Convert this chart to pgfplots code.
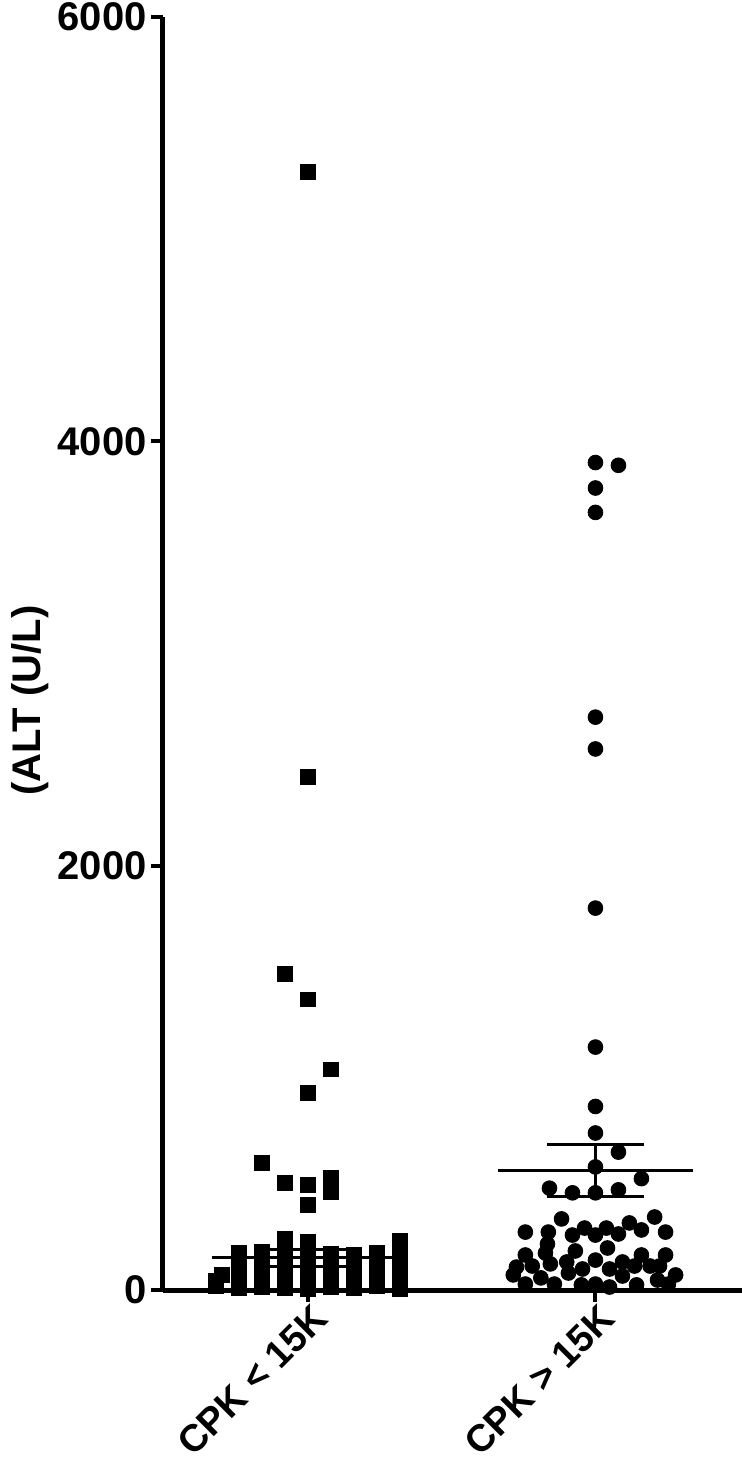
\documentclass[border=0pt]{standalone}
\usepackage{fontspec}
\setmainfont{Liberation Sans}
\usepackage{pgfplots}
\pgfplotsset{compat=1.18}
\usetikzlibrary{calc}
\newcommand{\lblfont}{\fontsize{20}{23}\selectfont\bfseries}
\newcommand{\xlblfont}{\fontsize{19}{22}\selectfont\bfseries}

\begin{document}
\begin{tikzpicture}
\begin{axis}[
  scale only axis,
  width=289.5pt, height=636.5pt,
  xmin=0.495, xmax=2.51, ymin=0, ymax=6000,
  axis x line*=bottom, axis y line*=left,
  axis line style={line width=2.5pt, -},
  clip=false,
  tick align=outside,
  major tick length=6pt,
  every tick/.style={line width=2pt, black},
  xtick={1,2},
  xticklabels={CPK < 15K, CPK > 15K},
  xticklabel style={font=\xlblfont, rotate=45, anchor=north east, inner sep=1pt,
    xshift=2pt},
  ytick={0,2000,4000,6000},
  yticklabels={0,2000,4000,6000},
  yticklabel style={font=\lblfont, inner sep=2pt},
  ylabel={(ALT (U/L)},
  ylabel style={font=\lblfont, at={(axis description cs:-0.23,0.463)}, anchor=center},
]
% CPK < 15K
\addplot[only marks, mark=square*, mark size=3.7pt, black] coordinates {
  (1,5270) (1,2420) (0.92,1490) (1,1370) (1.08,1040) (1,930)
  (0.84,600) (0.92,505) (1,495) (1.08,530) (1.08,460) (1,400)
  (0.68,20) (0.68,45) (0.70,70)
  (0.76,10) (0.76,50) (0.76,90) (0.76,130) (0.76,175)
  (0.84,15) (0.84,60) (0.84,100) (0.84,140) (0.84,180)
  (0.92,10) (0.92,40) (0.92,80) (0.92,120) (0.92,160) (0.92,200) (0.92,240)
  (1,5) (1,30) (1,70) (1,110) (1,150) (1,190) (1,226)
  (1.08,15) (1.08,55) (1.08,95) (1.08,135) (1.08,170)
  (1.16,10) (1.16,45) (1.16,85) (1.16,125) (1.16,165)
  (1.24,20) (1.24,60) (1.24,100) (1.24,140) (1.24,175)
  (1.32,5) (1.32,35) (1.32,75) (1.32,115) (1.32,155) (1.32,195) (1.32,230)
};
% CPK > 15K
\addplot[only marks, mark=*, mark size=3.7pt, black] coordinates {
  (2,3900) (2.08,3887) (2,3780) (2,3665) (2,2700) (2,2550) (2,1800)
  (2,1145) (2,865) (2,740) (2.08,650) (2,580) (2.16,525)
  (1.84,480) (1.92,458) (2,458) (2.08,472)
  (1.756,273) (1.836,273) (1.833,217) (1.882,335) (1.92,259) (1.962,292)
  (2,259) (2.038,292) (2.08,264) (2.118,316) (2.16,283) (2.206,344)
  (2.244,273) (2.042,198) (1.756,165) (1.826,174) (1.93,184) (2.16,165)
  (2.244,165) (1.725,108) (1.78,113) (1.843,123) (1.90,132) (1.955,99)
  (2,141) (2.049,99) (2.094,132) (2.136,113) (2.19,113) (2.223,113)
  (2.279,71) (1.714,71) (1.756,28) (1.81,57) (1.857,28) (1.906,80)
  (1.951,24) (2,28) (2.049,14) (2.094,66) (2.143,24) (2.216,47) (2.254,28)
};
% mean and SEM, CPK < 15K
\addplot[line width=1.5pt, black] coordinates {(0.664,151) (1.336,151)};
\addplot[line width=1.5pt, black] coordinates {(0.833,193) (1.167,193)};
\addplot[line width=1.5pt, black] coordinates {(0.833,109) (1.167,109)};
\addplot[line width=1.5pt, black] coordinates {(1,109) (1,193)};
% mean and SEM, CPK > 15K
\addplot[line width=1.5pt, black] coordinates {(1.662,561) (2.338,561)};
\addplot[line width=1.5pt, black] coordinates {(1.83,684) (2.17,684)};
\addplot[line width=1.5pt, black] coordinates {(1.83,440) (2.17,440)};
\addplot[line width=1.5pt, black] coordinates {(2,440) (2,684)};
\end{axis}
\pgfresetboundingbox
\path[use as bounding box] ($(current axis.south west)+(-81.5pt,-87.5pt)$)
  rectangle ($(current axis.north east)+(0pt,8.5pt)$);
\end{tikzpicture}
\end{document}
